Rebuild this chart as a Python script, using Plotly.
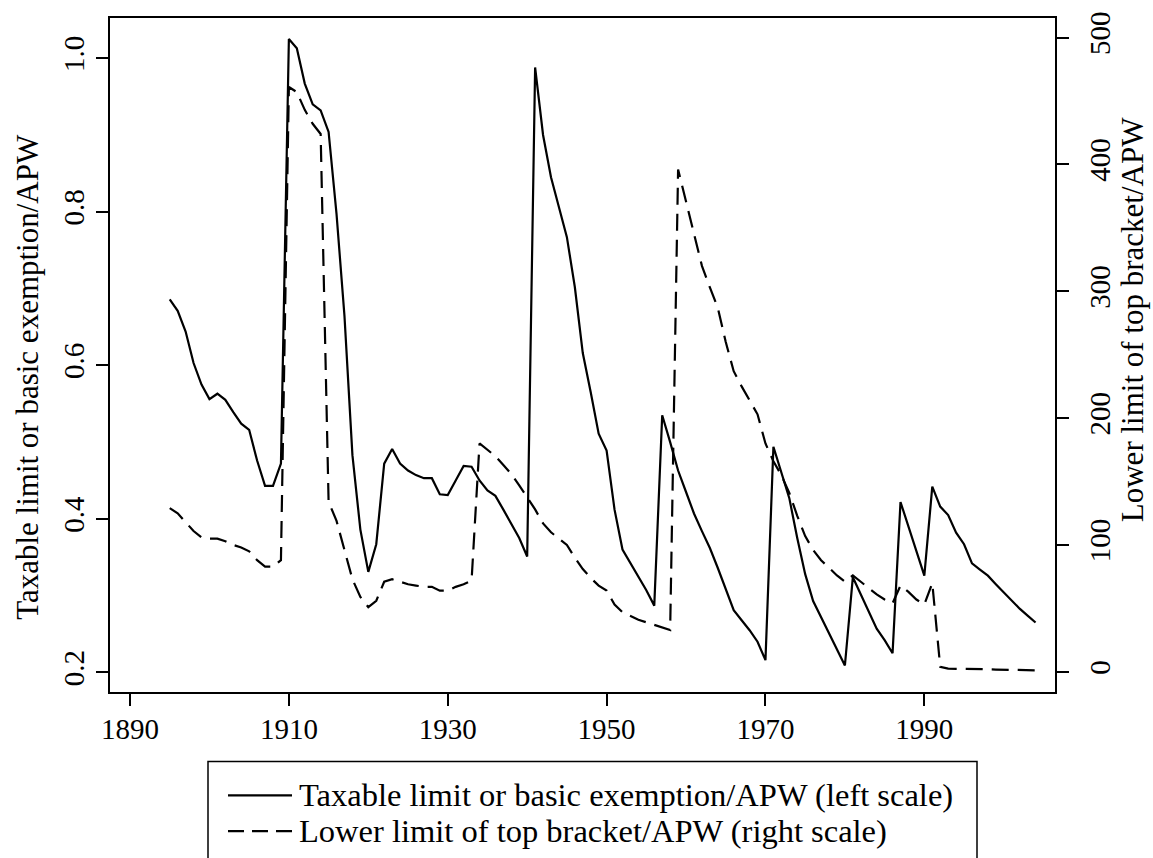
import plotly.graph_objects as go

# years covered by both series
years = list(range(1895, 2005))

# taxable limit or basic exemption / APW (left scale)
exempt_apw = [
    0.686, 0.671, 0.644, 0.603, 0.575, 0.556, 0.563, 0.555, 0.539, 0.524,   # 1895-1904
    0.516, 0.476, 0.443, 0.443, 0.472, 1.025, 1.013, 0.967, 0.940, 0.932,   # 1905-1914
    0.904, 0.797, 0.664, 0.483, 0.386, 0.331, 0.367, 0.472, 0.491, 0.472,   # 1915-1924
    0.463, 0.457, 0.453, 0.453, 0.432, 0.431, 0.450, 0.469, 0.468, 0.450,   # 1925-1934
    0.437, 0.430, 0.412, 0.394, 0.375, 0.351, 0.988, 0.900, 0.845, 0.806,   # 1935-1944
    0.767, 0.702, 0.616, 0.565, 0.511, 0.489, 0.412, 0.360, 0.342, 0.324,   # 1945-1954
    0.307, 0.287, 0.535, 0.500, 0.463, 0.435, 0.407, 0.384, 0.362, 0.336,   # 1955-1964
    0.308, 0.281, 0.268, 0.255, 0.240, 0.216, 0.494, 0.462, 0.427, 0.375,   # 1965-1974
    0.328, 0.293, 0.272, 0.250, 0.229, 0.209, 0.324, 0.302, 0.280, 0.257,   # 1975-1984
    0.242, 0.225, 0.422, 0.390, 0.358, 0.326, 0.442, 0.416, 0.405, 0.382,   # 1985-1994
    0.367, 0.342, 0.334, 0.326, 0.315, 0.304, 0.293, 0.283, 0.274, 0.265,   # 1995-2004
]

# lower limit of top bracket / APW (right scale)
topbracket_apw = [
    129, 125, 118, 111, 106, 105, 105, 103, 100, 98,     # 1895-1904
    95, 88, 83, 83, 88, 461, 457, 443, 432, 424,         # 1905-1914
    134, 119, 96, 73, 59, 51, 56, 71, 73, 71,            # 1915-1924
    69, 68, 67, 67, 64, 64, 67, 69, 72, 180,             # 1925-1934
    175, 170, 163, 156, 147, 138, 128, 117, 110, 105,    # 1935-1944
    100, 90, 81, 74, 68, 64, 53, 47, 44, 41,             # 1945-1954
    39, 37, 35, 33, 396, 370, 345, 320, 303, 287,        # 1955-1964
    260, 237, 225, 214, 203, 180, 166, 155, 141, 123,    # 1965-1974
    107, 96, 88, 82, 76, 71, 76, 71, 66, 61,             # 1975-1984
    57, 54, 68, 63, 57, 53, 70, 4, 2.5, 2.5,             # 1985-1994
    2.3, 2.2, 2.0, 2.0, 1.8, 1.7, 1.5, 1.4, 1.3, 1.2,    # 1995-2004
]

x_ticks = [1890, 1910, 1930, 1950, 1970, 1990]
left_ticks = [0.2, 0.4, 0.6, 0.8, 1.0]
left_labels = ["0.2", "0.4", "0.6", "0.8", "1.0"]
right_ticks = [0, 100, 200, 300, 400, 500]

left_title = "Taxable limit or basic exemption/APW"
right_title = "Lower limit of top bracket/APW"
legend_labels = ["Taxable limit or basic exemption/APW (left scale)",
                 "Lower limit of top bracket/APW (right scale)"]

W, H = 1153, 858
L, R, T, B = 110, 1055, 14, 692   # plot area in pixels
FONT = "Liberation Serif"

def px(xp):
    return (xp - L) / (R - L)

def py(yp):
    return (B - yp) / (B - T)

fig = go.Figure()
fig.add_trace(go.Scatter(x=years, y=exempt_apw, mode="lines",
                         line=dict(color="black", width=2.2),
                         name=legend_labels[0], showlegend=False))
fig.add_trace(go.Scatter(x=years, y=topbracket_apw, mode="lines", yaxis="y2",
                         line=dict(color="black", width=2.2, dash="17px,9px"),
                         name=legend_labels[1], showlegend=False))

axis_common = dict(showgrid=False, zeroline=False, showline=True, linecolor="black",
                   linewidth=2, ticks="outside", ticklen=12, tickwidth=2,
                   tickcolor="black", tickfont=dict(family=FONT, size=29, color="black"))

fig.update_layout(
    width=W, height=H,
    margin=dict(l=L, r=W - R, t=T, b=H - B),
    paper_bgcolor="white", plot_bgcolor="white",
    xaxis=dict(range=[1887.48, 2006.45], tickvals=x_ticks, mirror=True,
               ticklabelstandoff=-2, **axis_common),
    yaxis=dict(range=[0.1745, 1.0524], tickvals=left_ticks, ticktext=left_labels,
               tickangle=-90, **axis_common),
    yaxis2=dict(range=[-15.9, 515.4], tickvals=right_ticks, overlaying="y",
                side="right", tickangle=-90, ticklabelstandoff=6, **axis_common),
)

# axis titles
fig.add_annotation(text=left_title, textangle=-90, x=px(28), y=py(375),
                   xref="paper", yref="paper", xanchor="center", yanchor="middle",
                   showarrow=False, font=dict(family=FONT, size=31, color="black"))
fig.add_annotation(text=right_title, textangle=-90, x=px(1132), y=py(318),
                   xref="paper", yref="paper", xanchor="center", yanchor="middle",
                   showarrow=False, font=dict(family=FONT, size=31, color="black"))

# legend box, drawn by hand so the sample lines match the original length
fig.add_shape(type="rect", xref="paper", yref="paper",
              x0=px(208), x1=px(977), y0=py(762), y1=py(900),
              line=dict(color="black", width=1.5), fillcolor="white", layer="below")
rows = [796, 832]
dashes = ["solid", "16px,8px"]
for yrow, lab, dsh in zip(rows, legend_labels, dashes):
    fig.add_shape(type="line", xref="paper", yref="paper",
                  x0=px(228), x1=px(292), y0=py(yrow), y1=py(yrow),
                  line=dict(color="black", width=2.2, dash=dsh))
    fig.add_annotation(text=lab, x=px(297), y=py(yrow), xref="paper", yref="paper",
                       xanchor="left", yanchor="middle", showarrow=False,
                       font=dict(family=FONT, size=32.5, color="black"))

# page body has a default 8px margin, drop it so the figure sits at 0,0
fig.write_html("out.html", config={"displayModeBar": False},
               post_script="document.body.style.margin='0';")
